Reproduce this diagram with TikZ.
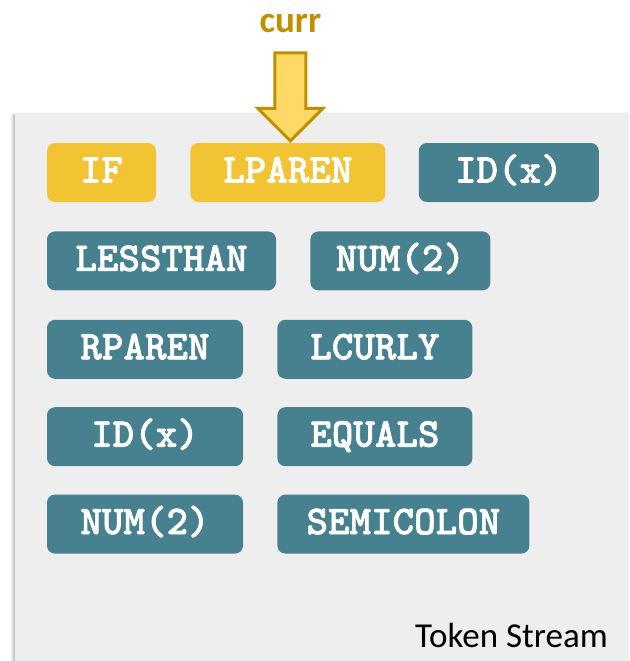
\documentclass[tikz,border=0pt]{standalone}
\usepackage{fontspec}
\setmainfont{Carlito}
\newfontfamily\tokfont{lmmonolt10-bold.otf}[FakeBold=1.5]
\usepackage{tikz}
\usetikzlibrary{positioning}
\definecolor{tokteal}{HTML}{47818F}
\definecolor{tokgold}{HTML}{F2C332}
\definecolor{ptrfill}{HTML}{FFD966}
\definecolor{ptrline}{HTML}{BF9000}
\definecolor{streambg}{HTML}{EEEEEE}

\begin{document}
\begin{tikzpicture}[x=1pt, y=-1pt, node distance=29pt and 34pt,
    tok/.style={rounded corners=8pt, inner sep=0pt, minimum height=59pt, fill=tokteal, text=white,
      font=\tokfont\fontsize{41}{44}\selectfont, text height=20pt, text depth=0pt},
    cur/.style={tok, fill=tokgold},
    ptr/.style={draw=ptrline, fill=ptrfill, line width=3pt, miter limit=4}]

\useasboundingbox (0,0) rectangle (629,661);
\shade[left color=white, right color=black!30] (10,114) rectangle (15,661);
\shade[top color=white, bottom color=black!10] (15,111) rectangle (629,114);
\fill[streambg] (15,114) rectangle (629,661);

\node[cur, minimum width=109pt] (if) at (101.5,172.5) {IF};
\node[cur, minimum width=195pt, right=of if] (lparen) {LPAREN};
\node[tok, minimum width=180pt, right=33pt of lparen] (idx) {ID(x)};
\node[tok, minimum width=229pt, below=of if.south west, anchor=north west] (lessthan) {LESSTHAN};
\node[tok, minimum width=180pt, right=of lessthan] (num) {NUM(2)};
\node[tok, minimum width=196pt, below=of lessthan.south west, anchor=north west] (rparen) {RPAREN};
\node[tok, minimum width=195pt, right=of rparen] (lcurly) {LCURLY};
\node[tok, minimum width=196pt, below=28pt of rparen.south west, anchor=north west] (idx2) {ID(x)};
\node[tok, minimum width=195pt, right=of idx2] (equals) {EQUALS};
\node[tok, minimum width=196pt, below=28pt of idx2.south west, anchor=north west] (num2) {NUM(2)};
\node[tok, minimum width=252pt, right=of num2] (semi) {SEMICOLON};

\coordinate (tip) at ([xshift=2.5pt, yshift=2pt]lparen.north);
\coordinate (tail) at ([yshift=88pt]tip);
\draw[ptr] (tip) -- ++(-32.5pt,32.5pt) -- ++(17pt,0pt) -- ++(0pt,55.5pt) -- ++(31pt,0pt)
  -- ++(0pt,-55.5pt) -- ++(17pt,0pt) -- cycle;
\node[above=20pt of tail, inner sep=0pt, text=ptrline, font=\bfseries\fontsize{37}{40}\selectfont] (currlbl) {curr};

\node[anchor=base east, inner sep=0pt, font=\fontsize{35}{40}\selectfont] (streamlbl) at (608,647) {Token Stream};
\end{tikzpicture}
\end{document}
